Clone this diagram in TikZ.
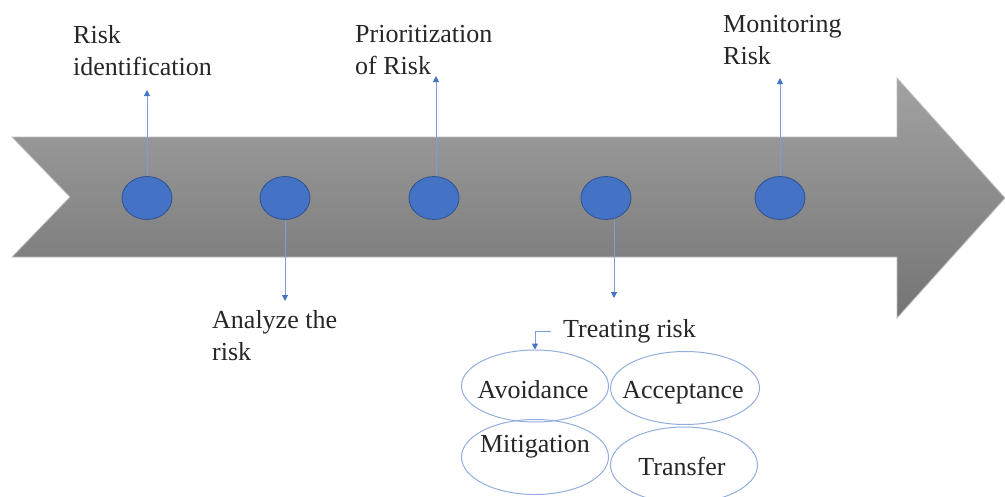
\documentclass[tikz,border=0pt]{standalone}
\usepackage{fontspec}
\setmainfont{Liberation Serif}
\usepackage{tikz}
\usetikzlibrary{arrows.meta,shapes.geometric,positioning}
\definecolor{stepblue}{HTML}{4472C4}
\definecolor{stepedge}{HTML}{2F528F}
\definecolor{linkblue}{HTML}{7E9CD6}
\definecolor{ovalblue}{HTML}{93AEDE}
\definecolor{bandtop}{HTML}{A2A2A2}
\definecolor{bandbot}{HTML}{747474}
\definecolor{bandedge}{HTML}{BEBEBE}

\begin{document}
\begin{tikzpicture}[
    x=1pt, y=-1pt,
    every node/.style={font=\fontsize{26}{32}\selectfont, text=black!85},
    dot/.style={ellipse, fill=stepblue, draw=stepedge, line width=0.8pt,
                minimum width=50pt, minimum height=43pt, inner sep=0pt},
    lbl/.style={anchor=north west, align=left, inner sep=0pt},
    oval/.style={ellipse, draw=ovalblue, line width=1pt, inner sep=0pt},
    link/.style={draw=linkblue, line width=1pt,
                 -{Triangle[width=6pt,length=6pt,color=stepblue]}},
]

\useasboundingbox (0,0) rectangle (1005,496);

% Band arrow
\shade[top color=bandtop, bottom color=bandbot, draw=bandedge, line width=0.8pt]
  (12,137) -- (897,137) -- (897,78) -- (1005,198) -- (897,318)
  -- (897,257) -- (12,257) -- (70,197) -- cycle;

% Steps on the band
\node[dot] (c1) at (147,198) {};
\node[dot] (c2) at (285,198) {};
\node[dot] (c3) at (434,198) {};
\node[dot] (c4) at (606,198) {};
\node[dot] (c5) at (780,198) {};

% Labels
\node[lbl] (ident) at (73,25) {Risk\\identification};
\node[lbl] (prio) at (355,25) {Prioritization\\of Risk};
\node[lbl] (monit) at (723,15) {Monitoring\\Risk};
\node[lbl] (analy) at (212,310) {Analyze the\\risk};
\node[lbl] (treat) at (563,319) {Treating risk};

% Arrow ends
\coordinate (t1) at (147,90);
\coordinate (t2) at (285,301);
\coordinate (t3) at (436,76);
\coordinate (t4) at (614,298);
\coordinate (t5) at (780,78);

\draw[link] (c1) -- (t1);
\draw[link] (c2) -- (t2);
\draw[link] (c3.north -| t3) -- (t3);
\draw[link] (c4.south -| t4) -- (t4);
\draw[link] (c5) -- (t5);

% Ways of treating
\node[oval, minimum width=147pt, minimum height=72pt] (avoid) at (535,386) {};
\node[oval, minimum width=149pt, minimum height=73pt] (accept) at (685,388) {};
\node[oval, minimum width=147pt, minimum height=75pt] (mitig) at (535,457) {};
\node[oval, minimum width=147pt, minimum height=76pt] (trans) at (684,465) {};

\node[anchor=base, inner sep=0pt] at (533,398) {Avoidance};
\node[anchor=base, inner sep=0pt] at (683,398) {Acceptance};
\node[anchor=base, inner sep=0pt] at (535,452) {Mitigation};
\node[anchor=base, inner sep=0pt] at (682,475) {Transfer};

\draw[link] ([xshift=-12pt]treat.west) -| (avoid.north);

\end{tikzpicture}
\end{document}
